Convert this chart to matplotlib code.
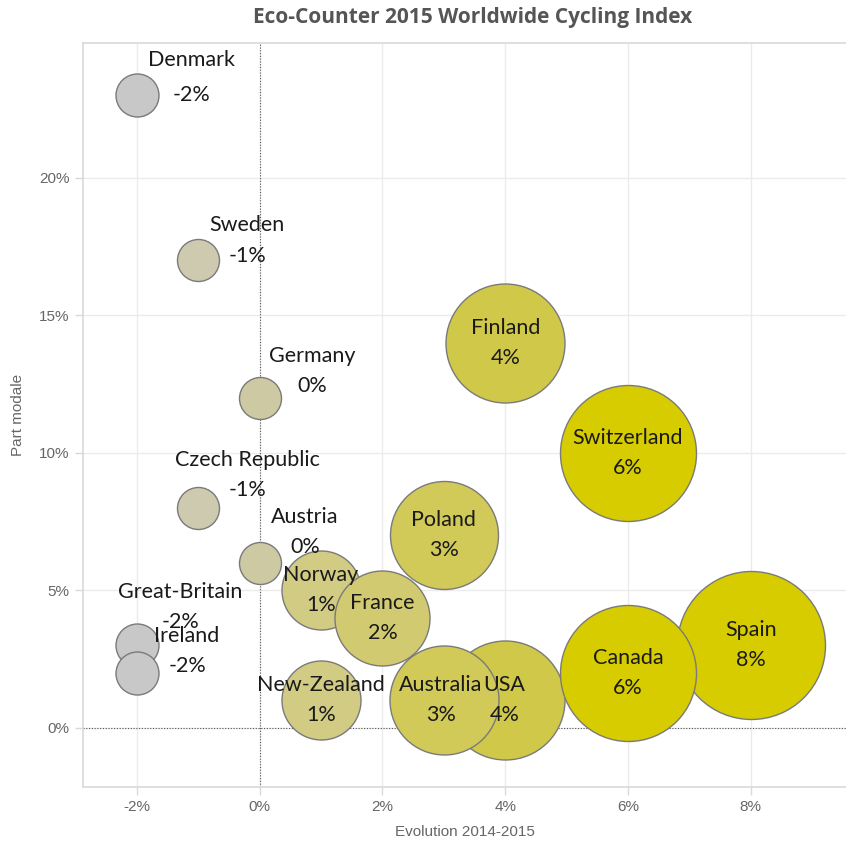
import matplotlib
matplotlib.use("Agg")
import matplotlib.pyplot as plt
from matplotlib.ticker import FuncFormatter

# ---------------- data ----------------
countries = ["Denmark", "Sweden", "Germany", "Czech Republic", "Austria",
             "Great-Britain", "Ireland", "Norway", "France", "New-Zealand",
             "Finland", "Switzerland", "Poland", "USA", "Australia",
             "Spain", "Canada"]
evolution = [-2, -1, 0, -1, 0, -2, -2, 1, 2, 1, 4, 6, 3, 4, 3, 8, 6]      # % (x)
part_modale = [23, 17, 12, 8, 6, 3, 2, 5, 4, 1, 14, 10, 7, 1, 1, 3, 2]   # % (y)
# bubble size measure (relative radius units)
size_measure = [21.5, 21, 21, 21, 21, 21.5, 21.5, 39.5, 47.5, 39.5,
                59.5, 68, 54, 59.5, 54.5, 74, 68]

x_ticks = [-2, 0, 2, 4, 6, 8]
y_ticks = [0, 5, 10, 15, 20]

# ---------------- styling ----------------
color_by_evo = {-2: "#c8c8c8", -1: "#cdcab0", 0: "#cdc9a2", 1: "#d1cb84",
                2: "#d2ca70", 3: "#d1c958", 4: "#d0c848", 6: "#d6cc00",
                8: "#d6cc00"}

# label placement (pixel offsets from bubble centre: dx, dy_name, dy_value; y up)
outside = {"Denmark": (54, 35, 0), "Sweden": (49, 35, 4),
           "Germany": (52, 42, 12), "Czech Republic": (49, 48, 18),
           "Austria": (45, 46, 16), "Great-Britain": (43, 53, 23),
           "Ireland": (50, 37, 7)}
inside_dx = {"Australia": -3, "USA": -1}

label_font = ["Lato", "DejaVu Sans"]
axis_font = ["Liberation Sans", "DejaVu Sans"]

DPI = 100
fig = plt.figure(figsize=(8.46, 8.41), dpi=DPI)
ax = fig.add_axes([83 / 846, 1 - 787 / 841, 1 - 83 / 846 + 0.002, (787 - 43) / 841])

ax.set_xlim(-2.88, 9.58)
ax.set_ylim(-2.15, 24.9)

px2pt = 72.0 / DPI
for i, c in enumerate(countries):
    r = size_measure[i]
    s = (2 * r * px2pt) ** 2
    ax.scatter([evolution[i]], [part_modale[i]], s=s,
               color=color_by_evo[evolution[i]], edgecolor="#7a7a7a",
               linewidth=1.0, zorder=3 + i * 0.01)

for i, c in enumerate(countries):
    x, y = evolution[i], part_modale[i]
    val = f"{evolution[i]}%"
    if c in outside:
        dx, dyn, dyv = outside[c]
    else:
        dx, dyn, dyv = inside_dx.get(c, 0), 15, -15
    ax.annotate(c, (x, y), xytext=(dx * px2pt, dyn * px2pt),
                textcoords="offset points", ha="center", va="center",
                fontsize=15.5, family=label_font, color="#1a1a1a", zorder=10)
    ax.annotate(val, (x, y), xytext=(dx * px2pt, dyv * px2pt),
                textcoords="offset points", ha="center", va="center",
                fontsize=15.5, family=label_font, color="#1a1a1a", zorder=10)

# reference lines
ax.axvline(0, color="#555555", linestyle=(0, (1, 1.5)), linewidth=0.8, zorder=2)
ax.axhline(0, color="#555555", linestyle=(0, (1, 1.5)), linewidth=0.8, zorder=2)

ax.set_xticks(x_ticks)
ax.set_yticks(y_ticks)
ax.xaxis.set_major_formatter(FuncFormatter(lambda v, p: f"{v:.0f}%"))
ax.yaxis.set_major_formatter(FuncFormatter(lambda v, p: f"{v:.0f}%"))
ax.grid(True, color="#ebebeb", linewidth=1.0, zorder=0)
ax.set_axisbelow(True)

for side in ["left", "bottom", "top"]:
    ax.spines[side].set_color("#d9d9d9")
    ax.spines[side].set_linewidth(1.2)
ax.spines["right"].set_visible(False)

ax.tick_params(axis="both", colors="#d9d9d9", length=6, width=1,
               labelcolor="#666666", labelsize=11)
for lab in ax.get_xticklabels() + ax.get_yticklabels():
    lab.set_family(axis_font)

ax.set_xlabel("Evolution 2014-2015", fontsize=11, color="#666666",
              family=axis_font, labelpad=8)
ax.set_ylabel("Part modale", fontsize=11, color="#666666",
              family=axis_font, labelpad=10)

fig.text(473 / 846, 1 - 18 / 841, "Eco-Counter 2015 Worldwide Cycling Index",
         ha="center", va="center", fontsize=15, fontweight="bold",
         color="#555555", family=["Open Sans", "DejaVu Sans"])

fig.savefig("out.png", dpi=DPI)
